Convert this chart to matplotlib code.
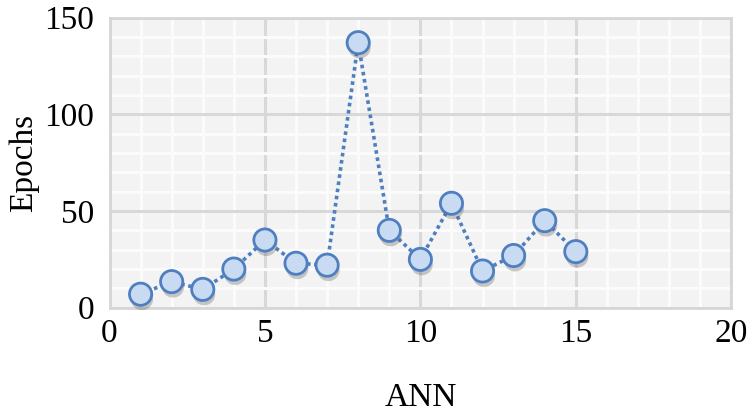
import matplotlib
matplotlib.use("Agg")
import matplotlib.pyplot as plt
import matplotlib.patheffects as pe
from matplotlib.ticker import MultipleLocator

# data
ann = [1, 2, 3, 4, 5, 6, 7, 8, 9, 10, 11, 12, 13, 14, 15]
epochs = [7, 13.5, 9.5, 20, 35, 23, 22, 137, 40, 25, 54, 19, 27, 45, 29]

LINE = "#4f7fc0"
FILL = "#c9dbf3"

plt.rcParams["font.family"] = ["Liberation Serif", "DejaVu Serif"]

fig = plt.figure(figsize=(7.5, 4.17), dpi=100)
ax = fig.add_axes([0.146, 0.262, 0.829, 0.696])
ax.set_facecolor("#f3f3f3")

ax.set_xlim(0, 20)
ax.set_ylim(0, 150)
ax.xaxis.set_major_locator(MultipleLocator(5))
ax.yaxis.set_major_locator(MultipleLocator(50))
ax.xaxis.set_minor_locator(MultipleLocator(1))
ax.yaxis.set_minor_locator(MultipleLocator(10))
ax.grid(which="minor", color="#fbfbfb", lw=2.2, zorder=0)
ax.grid(which="major", color="#d8d8d8", lw=2.2, zorder=1)
ax.set_axisbelow(True)
ax.tick_params(which="both", length=0, labelsize=24)
ax.tick_params(axis="x", pad=8)
ax.tick_params(axis="y", pad=11)
for s in ax.spines.values():
	s.set_color("#d6d6d6")
	s.set_linewidth(2)

ax.plot(ann, epochs, ls=(0, (1, 1)), lw=2.6, color=LINE, zorder=3)
ax.plot(ann, epochs, ls="none", marker="o", ms=16, mfc=FILL, mec=LINE,
	mew=2, zorder=4, clip_on=False,
	path_effects=[pe.SimplePatchShadow(offset=(1, -3.5), alpha=0.3,
		shadow_rgbFace="#555555"), pe.Normal()])

ax.set_xlabel("ANN", fontsize=24, labelpad=24)
ax.set_ylabel("Epochs", fontsize=24, labelpad=4)

fig.savefig("out.png", dpi=100)
